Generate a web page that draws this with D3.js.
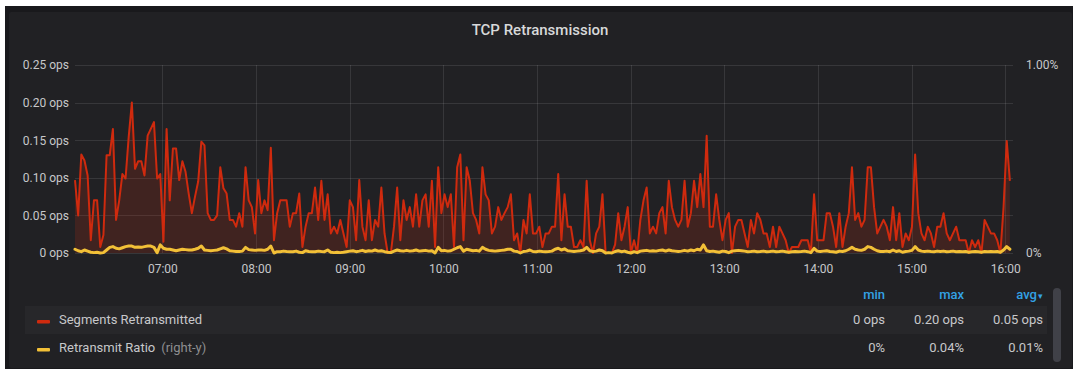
<!DOCTYPE html>
<html>
<head>
<meta charset="utf-8">
<script src="https://cdn.jsdelivr.net/npm/d3@7"></script>
<style>
  body { margin: 0; background: #fff; }
  svg { display: block; font-family: Roboto, "Noto Sans", sans-serif; }
</style>
</head>
<body>
<div id="chart"></div>
<script>
// one sample roughly every 2 min, 06:04 -> 16:03
const startTime = "06:04";
const endTime = "16:03";
const hourTicks = ["07:00", "08:00", "09:00", "10:00", "11:00", "12:00", "13:00", "14:00", "15:00", "16:00"];
const leftTicks = [0, 0.05, 0.1, 0.15, 0.2, 0.25];
const rightTicks = [0, 1];
const seriesNames = ["Segments Retransmitted", "Retransmit Ratio"];
const statHeaders = ["min", "max", "avg"];

// ops
const segmentsRetransmitted = [
  0.097,0.050,0.131,0.123,0.103,0.017,0.070,0.070,0.008,0.024,0.130,0.130,0.165,0.044,0.070,0.105,0.099,0.154,0.200,0.112,0.122,0.122,0.103,0.156,0.165,0.174,0.099,0.105,0.015,0.165,0.070,0.139,0.139,0.097,0.122,0.108,0.079,0.053,0.075,0.095,0.148,0.143,0.053,
  0.044,0.044,0.050,0.114,0.086,0.079,0.044,0.044,0.035,0.053,0.035,0.114,0.070,0.061,0.026,0.097,0.053,0.070,0.057,0.140,0.017,0.053,0.070,0.070,0.070,0.035,0.053,0.053,0.079,0.008,0.035,0.053,0.053,0.087,0.044,0.096,0.044,0.078,0.026,0.035,0.026,0.044,0.026,
  0.008,0.070,0.061,0.017,0.097,0.035,0.017,0.070,0.017,0.044,0.035,0.087,0.026,0.000,0.000,0.035,0.087,0.017,0.070,0.044,0.061,0.035,0.078,0.035,0.070,0.078,0.035,0.096,0.008,0.114,0.053,0.078,0.061,0.078,0.008,0.114,0.131,0.017,0.114,0.096,0.053,0.044,0.026,
  0.114,0.078,0.070,0.026,0.035,0.061,0.044,0.053,0.061,0.078,0.017,0.026,0.000,0.044,0.026,0.078,0.026,0.026,0.035,0.008,0.026,0.026,0.035,0.035,0.105,0.017,0.078,0.035,0.035,0.008,0.008,0.017,0.008,0.096,0.017,0.000,0.026,0.035,0.078,0.000,0.000,0.000,
  0.011,0.053,0.017,0.035,0.061,0.000,0.017,0.000,0.044,0.070,0.087,0.026,0.035,0.026,0.053,0.061,0.026,0.096,0.061,0.044,0.035,0.044,0.096,0.035,0.053,0.096,0.061,0.105,0.061,0.156,0.035,0.035,0.078,0.044,0.017,0.044,0.053,0.000,0.035,0.044,0.044,0.026,
  0.008,0.044,0.026,0.053,0.044,0.026,0.026,0.008,0.035,0.008,0.035,0.026,0.017,0.000,0.008,0.008,0.008,0.017,0.017,0.017,0.000,0.078,0.017,0.017,0.017,0.053,0.053,0.035,0.008,0.053,0.008,0.035,0.053,0.114,0.044,0.053,0.035,0.044,0.114,0.114,0.061,0.026,0.035,
  0.044,0.035,0.017,0.061,0.017,0.053,0.008,0.026,0.017,0.035,0.131,0.053,0.026,0.017,0.035,0.026,0.008,0.035,0.035,0.053,0.026,0.017,0.026,0.035,0.017,0.017,0.017,0.000,0.017,0.008,0.017,0.000,0.044,0.035,0.026,0.026,0.017,0.000,0.061,0.149,0.096
];

// percent, right y
const retransmitRatio = [
  0.02,0.012,0.007,0.016,0.01,0.004,0.002,0.004,0.0,0.002,0.016,0.03,0.034,0.025,0.022,0.028,0.034,0.037,0.037,0.03,0.032,0.03,0.034,0.037,0.037,0.03,0.002,0.043,0.025,0.02,0.02,0.016,0.012,0.016,0.02,0.018,0.016,0.016,0.02,0.025,0.037,0.016,0.014,
  0.012,0.014,0.016,0.022,0.028,0.022,0.012,0.01,0.008,0.008,0.01,0.03,0.018,0.016,0.014,0.016,0.016,0.014,0.02,0.037,0.0,0.007,0.007,0.01,0.008,0.007,0.007,0.01,0.004,0.002,0.012,0.008,0.007,0.007,0.01,0.008,0.007,0.016,0.004,0.002,0.004,0.002,0.004,
  0.007,0.01,0.012,0.007,0.01,0.014,0.008,0.012,0.01,0.016,0.01,0.012,0.007,0.004,0.002,0.01,0.016,0.012,0.01,0.014,0.01,0.012,0.016,0.01,0.012,0.014,0.01,0.012,0.0,0.03,0.012,0.014,0.01,0.012,0.02,0.028,0.034,0.01,0.02,0.016,0.012,0.014,0.01,
  0.03,0.02,0.014,0.012,0.01,0.012,0.014,0.016,0.02,0.02,0.01,0.008,0.0,0.008,0.01,0.016,0.008,0.007,0.01,0.008,0.007,0.008,0.01,0.02,0.025,0.016,0.022,0.012,0.01,0.008,0.01,0.012,0.016,0.03,0.012,0.008,0.01,0.016,0.012,0.0,0.002,0.0,
  0.008,0.012,0.007,0.01,0.004,0.0,0.007,0.002,0.01,0.012,0.014,0.01,0.012,0.01,0.014,0.016,0.01,0.016,0.012,0.01,0.008,0.01,0.014,0.01,0.016,0.012,0.02,0.016,0.043,0.012,0.008,0.01,0.007,0.004,0.01,0.008,0.002,0.01,0.012,0.014,0.012,0.01,
  0.007,0.008,0.01,0.007,0.008,0.01,0.007,0.008,0.01,0.007,0.008,0.01,0.007,0.004,0.007,0.008,0.007,0.008,0.01,0.007,0.002,0.025,0.01,0.008,0.01,0.012,0.008,0.007,0.004,0.01,0.008,0.012,0.02,0.03,0.02,0.016,0.014,0.02,0.034,0.03,0.02,0.012,0.008,
  0.008,0.01,0.007,0.016,0.008,0.012,0.004,0.008,0.01,0.014,0.034,0.016,0.01,0.008,0.01,0.008,0.007,0.01,0.008,0.01,0.007,0.008,0.01,0.007,0.008,0.007,0.008,0.004,0.007,0.008,0.007,0.004,0.008,0.007,0.008,0.007,0.008,0.004,0.016,0.034,0.02
];

const W = 1080, H = 375;
const red = "#cf2a0e", yellow = "#f2c037";
const textColor = "#c7c8ca";

const svg = d3.select("#chart").append("svg").attr("width", W).attr("height", H);

// panel frame
svg.append("rect").attr("x", 5).attr("y", 6).attr("width", 1068).attr("height", 363).attr("fill", "#19191c");
svg.append("rect").attr("x", 9).attr("y", 12).attr("width", 1063).attr("height", 356).attr("rx", 2).attr("fill", "#212124");

svg.append("text")
  .attr("x", 540).attr("y", 35)
  .attr("text-anchor", "middle")
  .attr("font-size", 15).attr("font-weight", 500)
  .attr("fill", "#d8d9da")
  .text("TCP Retransmission");

const parse = d3.timeParse("%H:%M");
const t0 = parse(startTime), t1 = parse(endTime);
const n = segmentsRetransmitted.length;
const times = segmentsRetransmitted.map((d, i) => new Date(+t0 + i * (t1 - t0) / (n - 1)));

const x = d3.scaleTime().domain([t0, d3.timeMinute.offset(t1, 2)]).range([75, 1013]);
const yL = d3.scaleLinear().domain([0, 0.25]).range([253, 65]);
const yR = d3.scaleLinear().domain([0, 1]).range([253, 65]);

// grid
const grid = svg.append("g").attr("stroke", "rgba(255,255,255,0.1)").attr("stroke-width", 1);
grid.selectAll(".h").data(leftTicks).enter().append("line")
  .attr("x1", 75).attr("x2", 1013)
  .attr("y1", d => Math.round(yL(d)) + 0.5).attr("y2", d => Math.round(yL(d)) + 0.5);
grid.selectAll(".v").data(hourTicks).enter().append("line")
  .attr("x1", d => Math.round(x(parse(d))) + 0.5).attr("x2", d => Math.round(x(parse(d))) + 0.5)
  .attr("y1", 65).attr("y2", 253);

// axes
const fmtOps = v => v === 0 ? "0 ops" : v.toFixed(2) + " ops";
const fmtPct = v => v === 0 ? "0%" : v.toFixed(2) + "%";

const axL = svg.append("g").attr("transform", "translate(75,0)")
  .call(d3.axisLeft(yL).tickValues(leftTicks).tickSize(0).tickPadding(6).tickFormat(fmtOps));
const axR = svg.append("g").attr("transform", "translate(1013,0)")
  .call(d3.axisRight(yR).tickValues(rightTicks).tickSize(0).tickPadding(13).tickFormat(fmtPct));
const axB = svg.append("g").attr("transform", "translate(0,253)")
  .call(d3.axisBottom(x).tickValues(hourTicks.map(parse)).tickSize(0).tickPadding(11).tickFormat(d3.timeFormat("%H:%M")));
[axL, axR, axB].forEach(a => {
  a.select(".domain").remove();
  a.selectAll("text").attr("fill", textColor).attr("font-size", 12).attr("font-family", "Roboto, sans-serif");
});

// series
const redArea = d3.area().x((d, i) => x(times[i])).y0(yL(0)).y1(d => yL(d));
const redLine = d3.line().x((d, i) => x(times[i])).y(d => yL(d));
const yelLine = d3.line().x((d, i) => x(times[i])).y(d => yR(d));

svg.append("path").datum(segmentsRetransmitted)
  .attr("d", redArea).attr("fill", red).attr("fill-opacity", 0.18);
svg.append("path").datum(segmentsRetransmitted)
  .attr("d", redLine).attr("fill", "none").attr("stroke", red).attr("stroke-width", 2).attr("stroke-linejoin", "round");
svg.append("path").datum(retransmitRatio)
  .attr("d", yelLine).attr("fill", "none").attr("stroke", yellow).attr("stroke-width", 3).attr("stroke-linejoin", "round").attr("stroke-linecap", "round");

// legend table
const stats = [segmentsRetransmitted, retransmitRatio].map(s => [d3.min(s), d3.max(s), d3.mean(s)]);
const fmts = [fmtOps, fmtPct];
const colors = [red, yellow];
const colX = [885, 964, 1043];
const rowY = [324, 352];

svg.append("rect").attr("x", 25).attr("y", 306).attr("width", 1022).attr("height", 28).attr("fill", "#27272a");

statHeaders.forEach((h, i) => {
  const t = svg.append("text").attr("x", colX[i]).attr("y", 299).attr("text-anchor", "end")
    .attr("font-size", 13).attr("font-weight", 500).attr("fill", "#33a2e5").text(h);
  if (h === "avg") t.append("tspan").attr("font-size", 9).attr("dx", 1).text("▾");
});

seriesNames.forEach((name, r) => {
  svg.append("rect").attr("x", 37).attr("y", rowY[r] - 4).attr("width", 13).attr("height", 3.5).attr("rx", 1).attr("fill", colors[r]);
  const t = svg.append("text").attr("x", 59).attr("y", rowY[r]).attr("font-size", 13).attr("fill", textColor).text(name);
  if (r === 1) t.append("tspan").attr("dx", 6).attr("fill", "#8e8e90").text("(right-y)");
  stats[r].forEach((v, c) => {
    svg.append("text").attr("x", colX[c]).attr("y", rowY[r]).attr("text-anchor", "end")
      .attr("font-size", 13).attr("fill", textColor).text(fmts[r](v));
  });
});

// scrollbar
svg.append("rect").attr("x", 1053).attr("y", 288).attr("width", 8).attr("height", 74).attr("rx", 4).attr("fill", "#404148");
</script>
</body>
</html>
